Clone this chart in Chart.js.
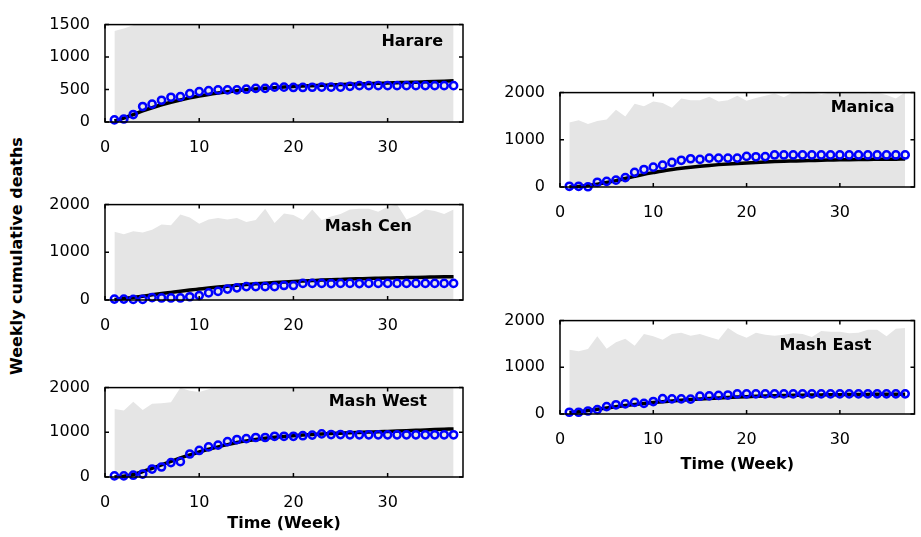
<!DOCTYPE html>
<html>
<head>
<meta charset="utf-8">
<title>Weekly cumulative deaths by province</title>
<script src="https://cdn.jsdelivr.net/npm/chart.js@4.4.0/dist/chart.umd.min.js"></script>
<style>
  body { margin: 0; background: #fff; width: 921px; height: 537px; position: relative; overflow: hidden; }
  canvas { position: absolute; }
  #y-title {
    position: absolute; left: 16px; top: 256px;
    transform: translate(-50%, -50%) rotate(-90deg);
    font: bold 16px 'DejaVu Sans', sans-serif; white-space: nowrap; color: #000;
  }
</style>
</head>
<body>
<div id="y-title">Weekly cumulative deaths</div>
<canvas id="harare-chart" width="470" height="160" style="left:0;top:0"></canvas>
<canvas id="mashcen-chart" width="470" height="158" style="left:0;top:180px"></canvas>
<canvas id="mashwest-chart" width="470" height="174" style="left:0;top:363px"></canvas>
<canvas id="manica-chart" width="441" height="157" style="left:480px;top:68px"></canvas>
<canvas id="masheast-chart" width="441" height="182" style="left:480px;top:296px"></canvas>

<script>
// week numbers shared by every province
const weeks = [1, 2, 3, 4, 5, 6, 7, 8, 9, 10, 11, 12, 13, 14, 15, 16, 17, 18, 19,
               20, 21, 22, 23, 24, 25, 26, 27, 28, 29, 30, 31, 32, 33, 34, 35, 36, 37];
const xTicks = [0, 10, 20, 30];

// Harare
const harareObserved = [32, 46, 115, 239, 275, 335, 381, 390, 436, 468, 482, 495, 495, 495, 505, 518, 518, 537, 537,
                        532, 532, 535, 537, 537, 537, 550, 560, 560, 560, 560, 560, 560, 560, 560, 560, 560, 560];
const harareModel = [15, 60, 115, 170, 220, 265, 305, 340, 372, 400, 425, 446, 465, 482, 496, 508, 519, 529, 538,
                     546, 553, 559, 565, 571, 576, 581, 586, 591, 596, 600, 605, 610, 614, 619, 624, 629, 634];
const harareUpper = [1400, 1440, 1490, 1560, 1620, 1650, 1700, 1720, 1760, 1700, 1780, 1800, 1760, 1820, 1790, 1850, 1800, 1880, 1830,
                     1860, 1900, 1850, 1880, 1920, 1870, 1900, 1950, 1900, 1930, 1960, 1980, 1900, 1950, 2000, 1950, 1980, 2000];

// Mash Cen
const mashCenObserved = [19, 19, 12, 12, 50, 43, 43, 43, 68, 93, 149, 180, 230, 255, 280, 280, 280, 280, 304,
                         304, 348, 348, 348, 345, 348, 348, 345, 348, 348, 348, 348, 348, 348, 348, 348, 348, 348];
const mashCenModel = [10, 30, 55, 80, 108, 135, 160, 185, 208, 230, 252, 272, 290, 308, 324, 339, 353, 366, 378,
                      389, 399, 408, 417, 425, 432, 439, 445, 451, 456, 461, 466, 470, 474, 478, 482, 486, 490];
const mashCenUpper = [1431, 1379, 1441, 1417, 1473, 1584, 1566, 1790, 1728, 1597, 1690, 1721, 1690, 1721, 1634, 1678, 1914, 1616, 1814,
                      1783, 1678, 1895, 1678, 1752, 1802, 1895, 1914, 1914, 1851, 1957, 2000, 1690, 1770, 1895, 1864, 1802, 1895];

// Mash West
const mashWestObserved = [26, 26, 40, 66, 178, 224, 323, 343, 515, 594, 673, 713, 792, 838, 858, 884, 884, 911, 911,
                          911, 924, 937, 964, 950, 950, 944, 944, 944, 944, 944, 944, 944, 944, 944, 944, 944, 944];
const mashWestModel = [0, 15, 55, 120, 195, 270, 350, 425, 495, 560, 620, 675, 725, 770, 808, 840, 868, 890, 908,
                       924, 938, 950, 961, 971, 980, 989, 997, 1005, 1012, 1020, 1028, 1036, 1044, 1052, 1060, 1068, 1076];
const mashWestUpper = [1519, 1485, 1683, 1499, 1637, 1651, 1670, 1994, 1928, 1901, 1961, 2050, 2100, 2080, 2150, 2120, 2200, 2150, 2180,
                       2220, 2200, 2250, 2180, 2230, 2260, 2200, 2240, 2280, 2250, 2300, 2270, 2310, 2280, 2300, 2260, 2320, 2300];

// Manica
const manicaObserved = [15, 15, 5, 100, 118, 145, 200, 310, 370, 420, 462, 520, 566, 598, 585, 612, 612, 612, 612,
                        648, 640, 645, 679, 679, 679, 679, 679, 679, 679, 679, 679, 679, 679, 679, 679, 679, 679];
const manicaModel = [0, 10, 30, 60, 95, 135, 180, 225, 268, 305, 340, 370, 397, 420, 440, 458, 474, 488, 500,
                     511, 521, 530, 538, 545, 551, 557, 562, 567, 571, 575, 578, 581, 584, 586, 588, 590, 592];
const manicaUpper = [1366, 1416, 1334, 1397, 1428, 1636, 1491, 1762, 1712, 1812, 1781, 1680, 1875, 1838, 1838, 1913, 1812, 1838, 1932,
                     1825, 1887, 1932, 1981, 1900, 2013, 1981, 2000, 1962, 2010, 2000, 2010, 2020, 1981, 2000, 1950, 1875, 2010];

// Mash East
const mashEastObserved = [38, 38, 64, 95, 159, 197, 216, 248, 229, 267, 330, 324, 324, 318, 381, 387, 400, 406, 432,
                          432, 432, 432, 432, 432, 432, 432, 432, 432, 432, 432, 432, 432, 432, 432, 432, 432, 432];
const mashEastModel = [30, 50, 75, 100, 128, 155, 180, 203, 225, 245, 263, 280, 295, 309, 322, 334, 345, 355, 364,
                       372, 379, 385, 390, 395, 399, 403, 406, 409, 412, 414, 416, 418, 420, 422, 423, 424, 425];
const mashEastUpper = [1378, 1346, 1391, 1664, 1397, 1537, 1613, 1461, 1715, 1664, 1588, 1715, 1740, 1677, 1715, 1651, 1588, 1842, 1715,
                       1632, 1740, 1696, 1677, 1696, 1727, 1715, 1651, 1778, 1759, 1759, 1727, 1740, 1804, 1804, 1664, 1823, 1842];

const FONT = "'DejaVu Sans', sans-serif";
Chart.defaults.font.family = FONT;
Chart.defaults.color = '#000';

function toPoints(values) {
    return weeks.map((w, i) => ({ x: w, y: values[i] }));
}

// box around the plot, inward ticks on all four sides, province name inside
const frameTicks = {
    id: 'frameTicks',
    afterDatasetsDraw(chart, args, opts) {
        const { ctx, chartArea: a, scales: { x, y } } = chart;
        ctx.save();
        ctx.strokeStyle = '#000';
        ctx.lineWidth = 1.5;
        ctx.beginPath();
        x.ticks.forEach(t => {
            const px = x.getPixelForValue(t.value);
            ctx.moveTo(px, a.bottom); ctx.lineTo(px, a.bottom - 4);
            ctx.moveTo(px, a.top); ctx.lineTo(px, a.top + 4);
        });
        y.ticks.forEach(t => {
            const py = y.getPixelForValue(t.value);
            ctx.moveTo(a.left, py); ctx.lineTo(a.left + 4, py);
            ctx.moveTo(a.right, py); ctx.lineTo(a.right - 4, py);
        });
        ctx.stroke();
        ctx.strokeRect(a.left, a.top, a.right - a.left, a.bottom - a.top);

        ctx.fillStyle = '#000';
        ctx.font = 'bold 16px ' + FONT;
        ctx.textAlign = 'right';
        ctx.textBaseline = 'middle';
        ctx.fillText(opts.text, a.right - opts.right, a.top + opts.top);
        ctx.restore();
    }
};

function makePanel(id, namePos, observed, model, upper, yMax, yStep, axisW, axisH, showXTitle, padRight) {
    const ctx = document.getElementById(id).getContext('2d');
    return new Chart(ctx, {
        type: 'line',
        data: {
            datasets: [
                {
                    // reported deaths
                    data: toPoints(observed),
                    showLine: false,
                    pointRadius: 3.6,
                    pointBorderWidth: 2.5,
                    pointBorderColor: '#0000ff',
                    pointBackgroundColor: 'rgba(0,0,0,0)',
                    clip: false
                },
                {
                    // model fit
                    data: toPoints(model),
                    borderColor: '#000',
                    borderWidth: 3.5,
                    pointRadius: 0,
                    cubicInterpolationMode: 'monotone',
                    clip: false
                },
                {
                    // spread of sampled trajectories
                    data: toPoints(upper),
                    borderColor: '#e5e5e5',
                    borderWidth: 0,
                    pointRadius: 0,
                    backgroundColor: '#e5e5e5',
                    fill: 'origin'
                }
            ]
        },
        options: {
            responsive: false,
            animation: false,
            layout: { padding: { top: 13, right: padRight, bottom: 0, left: 0 } },
            plugins: {
                legend: { display: false },
                tooltip: { enabled: false },
                frameTicks: namePos
            },
            scales: {
                x: {
                    type: 'linear',
                    min: 0,
                    max: 38,
                    grid: { display: false, drawTicks: false },
                    border: { display: false },
                    afterBuildTicks(scale) { scale.ticks = xTicks.map(v => ({ value: v })); },
                    ticks: { padding: 16, maxRotation: 0, font: { size: 16 }, callback: v => String(v) },
                    title: {
                        display: showXTitle,
                        text: 'Time (Week)',
                        font: { size: 16, weight: 'bold' },
                        padding: { top: 0, bottom: 4 }
                    },
                    afterFit(scale) { scale.height = axisH; }
                },
                y: {
                    min: 0,
                    max: yMax,
                    grid: { display: false, drawTicks: false },
                    border: { display: false },
                    ticks: { stepSize: yStep, padding: 15, font: { size: 16 }, callback: v => String(v) },
                    afterFit(scale) { scale.width = axisW; }
                }
            }
        },
        plugins: [frameTicks]
    });
}

document.addEventListener('DOMContentLoaded', function() {
    makePanel('harare-chart', { text: 'Harare', right: 20, top: 17 },
        harareObserved, harareModel, harareUpper, 1500, 500, 105, 38, false, 7);
    makePanel('mashcen-chart', { text: 'Mash Cen', right: 51, top: 22 },
        mashCenObserved, mashCenModel, mashCenUpper, 2000, 1000, 105, 38, false, 7);
    makePanel('mashwest-chart', { text: 'Mash West', right: 36, top: 14 },
        mashWestObserved, mashWestModel, mashWestUpper, 2000, 1000, 105, 60, true, 7);
    makePanel('manica-chart', { text: 'Manica', right: 20, top: 15 },
        manicaObserved, manicaModel, manicaUpper, 2000, 1000, 80, 38, false, 4);
    makePanel('masheast-chart', { text: 'Mash East', right: 43, top: 25 },
        mashEastObserved, mashEastModel, mashEastUpper, 2000, 1000, 80, 64, true, 4);
});
</script>
</body>
</html>
